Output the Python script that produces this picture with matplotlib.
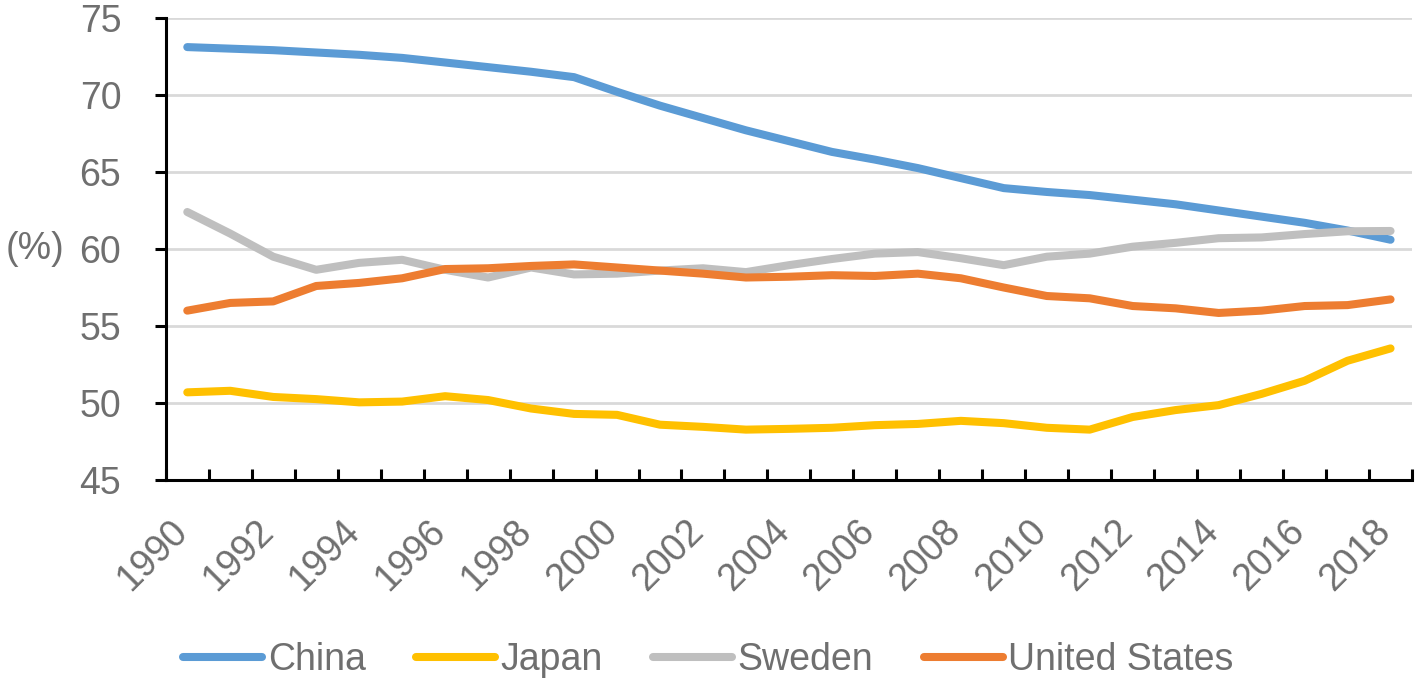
import numpy as np
import matplotlib.pyplot as plt
import matplotlib.transforms as mtransforms

plt.rcParams['font.family'] = ['Liberation Sans', 'DejaVu Sans']

# share of working-age population (%), 1990-2018
years = list(range(1990, 2019))
china = [73.1, 73.0, 72.9, 72.75, 72.6, 72.4, 72.1, 71.8, 71.5, 71.15,
         70.2, 69.3, 68.5, 67.7, 67.0, 66.3, 65.8, 65.25, 64.6, 63.95,
         63.7, 63.5, 63.2, 62.9, 62.5, 62.1, 61.7, 61.2, 60.6]
japan = [50.7, 50.8, 50.4, 50.26, 50.05, 50.1, 50.45, 50.2, 49.65, 49.3,
         49.24, 48.6, 48.46, 48.28, 48.33, 48.4, 48.57, 48.65, 48.85, 48.7,
         48.4, 48.28, 49.1, 49.55, 49.87, 50.6, 51.45, 52.75, 53.55]
sweden = [62.4, 61.0, 59.5, 58.65, 59.1, 59.3, 58.65, 58.15, 58.8, 58.35,
          58.4, 58.6, 58.75, 58.5, 58.95, 59.35, 59.7, 59.8, 59.4, 58.95,
          59.5, 59.7, 60.15, 60.4, 60.7, 60.75, 60.97, 61.15, 61.17]
us = [56.0, 56.5, 56.6, 57.6, 57.8, 58.1, 58.7, 58.75, 58.9, 59.0,
      58.8, 58.6, 58.4, 58.15, 58.2, 58.3, 58.25, 58.4, 58.1, 57.5,
      56.95, 56.8, 56.3, 56.15, 55.85, 56.0, 56.3, 56.36, 56.73]

series = [('China', china, '#5B9BD5'),
          ('Japan', japan, '#FFC000'),
          ('Sweden', sweden, '#BFBFBF'),
          ('United States', us, '#ED7D31')]

txt = '#6F6F6F'
fs = 27

fig = plt.figure(figsize=(14.17, 6.85), dpi=100)
ax = fig.add_axes([0.117, 0.299, 0.8795, 0.675])

x = np.arange(len(years))
for name, vals, col in series:
    ax.plot(x, vals, color=col, lw=5.8, solid_capstyle='round',
            solid_joinstyle='round', label=name)

ax.set_ylim(45, 75)
ax.set_yticks(range(45, 76, 5))
ax.set_xlim(-0.5, len(years) - 0.5)

# category axis: ticks between categories, labels every 2 years
ax.set_xticks(np.arange(-0.5, len(years), 1.0))
ax.set_xticklabels([])
ax.set_xticks(x[::2], minor=True)
ax.set_xticklabels([str(y) for y in years[::2]], minor=True, rotation=45,
                   ha='right', rotation_mode='anchor', fontsize=fs, color=txt)
ax.tick_params(axis='x', which='major', direction='in', length=8, width=2.2,
               color='black')
ax.tick_params(axis='x', which='minor', length=0, pad=14)
ax.tick_params(axis='y', direction='out', length=8, width=2.2, color='black',
               labelsize=fs, labelcolor=txt, pad=24)

ax.grid(axis='y', color='#D9D9D9', lw=2)
ax.set_axisbelow(True)
for s in ['top', 'right']:
    ax.spines[s].set_visible(False)
for s in ['left', 'bottom']:
    ax.spines[s].set_linewidth(2.2)
    ax.spines[s].set_zorder(5)

ax.set_ylabel('(%)', rotation=0, fontsize=fs, color=txt, va='center', ha='center')
ax.yaxis.set_label_coords(-0.105, 0.5)

fig.legend(loc='center', bbox_to_anchor=(0.5, 0.036), ncol=4, frameon=False,
           fontsize=fs, labelcolor=txt, handlelength=2.1, handletextpad=0.15,
           columnspacing=1.35)

# nudge the rotated year labels left/down like the original
shift = mtransforms.ScaledTranslation(-0.18, -0.14, fig.dpi_scale_trans)
for lab in ax.get_xticklabels(minor=True):
    lab.set_transform(lab.get_transform() + shift)

fig.savefig('out.png', dpi=100)
